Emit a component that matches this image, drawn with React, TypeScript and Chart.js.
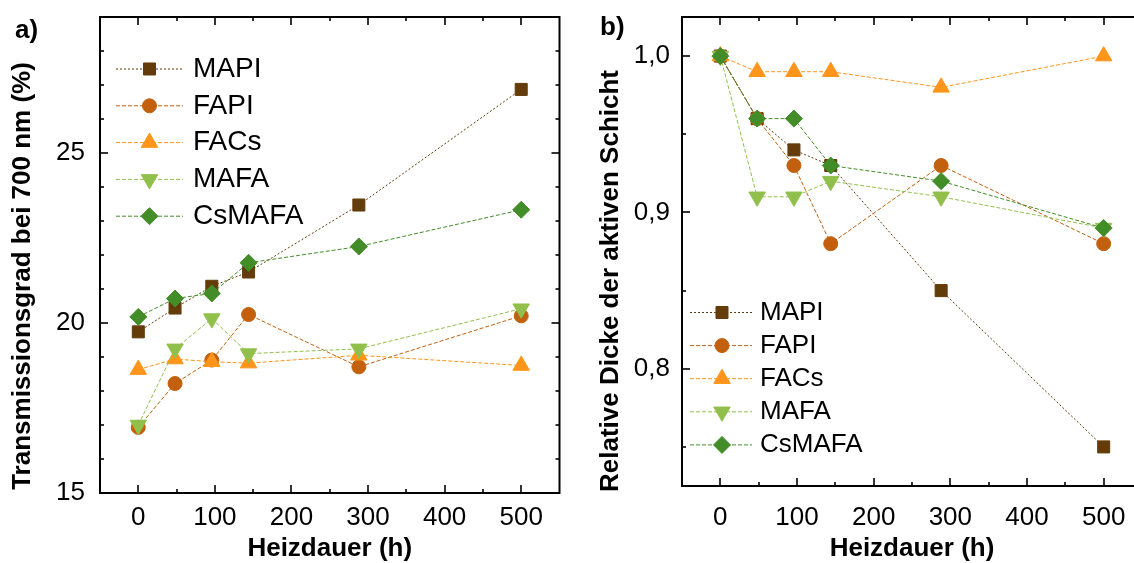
import React, { useEffect, useRef } from 'react';
import { Chart, registerables } from 'chart.js';
import { drawPoint } from 'chart.js/helpers';

Chart.register(...registerables);

// ---------- data ----------
const heatingHours = [0, 48, 96, 144, 288, 500];
const seriesNames = ['MAPI', 'FAPI', 'FACs', 'MAFA', 'CsMAFA'];

// panel a) Transmissionsgrad bei 700 nm (%)
const transmissionMAPI = [19.74, 20.44, 21.08, 21.5, 23.47, 26.87];
const transmissionFAPI = [16.93, 18.22, 18.91, 20.25, 18.71, 20.21];
const transmissionFACs = [18.63, 18.94, 18.86, 18.82, 19.05, 18.75];
const transmissionMAFA = [17.0, 19.24, 20.13, 19.1, 19.24, 20.42];
const transmissionCsMAFA = [20.18, 20.72, 20.87, 21.77, 22.25, 23.33];

// panel b) Relative Dicke der aktiven Schicht
const thicknessMAPI = [1.0, 0.96, 0.94, 0.93, 0.85, 0.75];
const thicknessFAPI = [1.0, 0.96, 0.93, 0.88, 0.93, 0.88];
const thicknessFACs = [1.0, 0.99, 0.99, 0.99, 0.98, 1.0];
const thicknessMAFA = [1.0, 0.91, 0.91, 0.92, 0.91, 0.89];
const thicknessCsMAFA = [1.0, 0.96, 0.96, 0.93, 0.92, 0.89];

// ticks
const xMajorTicks = [0, 100, 200, 300, 400, 500];
const xMinorTicks = [50, 150, 250, 350, 450];
const yMajorTicksA = [15, 20, 25];
const yMinorTicksA = [16, 17, 18, 19, 21, 22, 23, 24, 26, 27, 28];
const yMajorTicksB = [0.8, 0.9, 1.0];
const yMinorTicksB = [0.75, 0.85, 0.95];

// ---------- styles ----------
const FONT = '"Liberation Sans", Arial, Helvetica, sans-serif';

const seriesStyles = [
  { color: '#643c0a', pointStyle: 'rect', radius: 8.5, rotation: 0, dash: [2, 2] },
  { color: '#c2600e', pointStyle: 'circle', radius: 7, rotation: 0, dash: [4, 2] },
  { color: '#ff951a', pointStyle: 'triangle', radius: 9.5, rotation: 0, dash: [4, 2] },
  { color: '#90c04b', pointStyle: 'triangle', radius: 9.5, rotation: 180, dash: [4, 2] },
  { color: '#438d29', pointStyle: 'rectRot', radius: 8.5, rotation: 0, dash: [4, 2] },
];

type PanelSpec = {
  series: number[][];
  yMin: number;
  yMax: number;
  yMajor: number[];
  yMinor: number[];
  yLabel: (v: number) => string;
  yTitle: string;
  xTitle: string;
  letter: string;
  width: number;
  padding: { top: number; right: number; left: number; bottom: number };
  yAxisWidth: number;
  xAxisHeight: number;
  xTickPadding: number;
  yTickPadding: number;
  yTitleX: number;
  yTitleY: number;
  xTitleY: number;
  letterX: number;
  letterY: number;
  legend: { x1: number; x2: number; mx: number; tx: number; y0: number; step: number; font: number };
};

const panelA: PanelSpec = {
  series: [transmissionMAPI, transmissionFAPI, transmissionFACs, transmissionMAFA, transmissionCsMAFA],
  yMin: 15,
  yMax: 29,
  yMajor: yMajorTicksA,
  yMinor: yMinorTicksA,
  yLabel: (v) => String(v),
  yTitle: 'Transmissionsgrad bei 700 nm (%)',
  xTitle: 'Heizdauer (h)',
  letter: 'a)',
  width: 570,
  padding: { top: 17, right: 9, left: 0, bottom: 0 },
  yAxisWidth: 100,
  xAxisHeight: 70,
  xTickPadding: 9,
  yTickPadding: 15,
  yTitleX: 23,
  yTitleY: 276,
  xTitleY: 549,
  letterX: 15,
  letterY: 38,
  legend: { x1: 116, x2: 183, mx: 149.5, tx: 193, y0: 69, step: 36.8, font: 28 },
};

const panelB: PanelSpec = {
  series: [thicknessMAPI, thicknessFAPI, thicknessFACs, thicknessMAFA, thicknessCsMAFA],
  yMin: 0.725,
  yMax: 1.025,
  yMajor: yMajorTicksB,
  yMinor: yMinorTicksB,
  yLabel: (v) => v.toFixed(1).replace('.', ','),
  yTitle: 'Relative Dicke der aktiven Schicht',
  xTitle: 'Heizdauer (h)',
  letter: 'b)',
  width: 600,
  padding: { top: 17, right: 28, left: 0, bottom: 0 },
  yAxisWidth: 112,
  xAxisHeight: 77,
  xTickPadding: 16,
  yTickPadding: 12,
  yTitleX: 41,
  yTitleY: 281,
  xTitleY: 549,
  letterX: 30,
  letterY: 34.5,
  legend: { x1: 120, x2: 182, mx: 152, tx: 190, y0: 312.5, step: 33.1, font: 26 },
};

function decorPlugin(spec: PanelSpec) {
  return {
    id: 'panelDecor',
    afterDraw(chart: any) {
      const { ctx, chartArea: a, scales } = chart;
      const xs = scales.x;
      const ys = scales.y;
      ctx.save();
      ctx.setLineDash([]);
      ctx.strokeStyle = '#000';
      ctx.lineWidth = 2;
      ctx.strokeRect(a.left, a.top, a.right - a.left, a.bottom - a.top);

      ctx.lineWidth = 1.6;
      const seg = (x1: number, y1: number, x2: number, y2: number) => {
        ctx.beginPath();
        ctx.moveTo(x1, y1);
        ctx.lineTo(x2, y2);
        ctx.stroke();
      };
      const xTick = (v: number, len: number) => {
        const p = Math.round(xs.getPixelForValue(v));
        seg(p, a.bottom, p, a.bottom - len);
        seg(p, a.top, p, a.top + len);
      };
      const yTick = (v: number, len: number) => {
        const p = Math.round(ys.getPixelForValue(v));
        seg(a.left, p, a.left + len, p);
        seg(a.right, p, a.right - len, p);
      };
      xMajorTicks.forEach((v) => xTick(v, 8));
      xMinorTicks.forEach((v) => xTick(v, 4));
      spec.yMajor.forEach((v) => yTick(v, 8));
      spec.yMinor.forEach((v) => yTick(v, 4));

      // titles
      ctx.fillStyle = '#000';
      ctx.font = `bold 26px ${FONT}`;
      ctx.textAlign = 'center';
      ctx.textBaseline = 'middle';
      ctx.fillText(spec.xTitle, (a.left + a.right) / 2, spec.xTitleY);
      ctx.save();
      ctx.translate(spec.yTitleX, spec.yTitleY);
      ctx.rotate(-Math.PI / 2);
      ctx.fillText(spec.yTitle, 0, 0);
      ctx.restore();

      ctx.textAlign = 'left';
      ctx.textBaseline = 'alphabetic';
      ctx.fillText(spec.letter, spec.letterX, spec.letterY);

      // legend
      const lg = spec.legend;
      chart.data.datasets.forEach((ds: any, i: number) => {
        const st = seriesStyles[i];
        const y = lg.y0 + i * lg.step;
        ctx.strokeStyle = st.color;
        ctx.lineWidth = 1;
        ctx.setLineDash(st.dash);
        seg(lg.x1, y, lg.x2, y);
        ctx.setLineDash([]);
        ctx.fillStyle = st.color;
        ctx.strokeStyle = st.color;
        ctx.lineWidth = 1;
        drawPoint(ctx, { pointStyle: st.pointStyle, rotation: st.rotation, radius: st.radius, borderWidth: 1 } as any, lg.mx, y);
        ctx.fillStyle = '#000';
        ctx.font = `${lg.font}px ${FONT}`;
        ctx.textAlign = 'left';
        ctx.textBaseline = 'middle';
        ctx.fillText(ds.label, lg.tx, y);
      });
      ctx.restore();
    },
  };
}

function makeConfig(spec: PanelSpec): any {
  const zeroPad = (s: any) => {
    s.paddingLeft = 0;
    s.paddingRight = 0;
    s.paddingTop = 0;
    s.paddingBottom = 0;
  };
  return {
    type: 'line',
    data: {
      datasets: seriesNames.map((name, i) => {
        const st = seriesStyles[i];
        return {
          label: name,
          data: heatingHours.map((h, k) => ({ x: h, y: spec.series[i][k] })),
          borderColor: st.color,
          backgroundColor: st.color,
          borderWidth: 1,
          borderDash: st.dash,
          pointStyle: st.pointStyle,
          pointRadius: st.radius,
          pointRotation: st.rotation,
          pointBorderWidth: 1,
          pointBorderColor: st.color,
          pointBackgroundColor: st.color,
          fill: false,
          tension: 0,
          order: seriesNames.length - i,
          clip: false,
        };
      }),
    },
    options: {
      responsive: false,
      animation: false,
      devicePixelRatio: 1,
      events: [],
      layout: { padding: spec.padding },
      plugins: { legend: { display: false }, tooltip: { enabled: false }, title: { display: false } },
      scales: {
        x: {
          type: 'linear',
          min: -50,
          max: 550,
          grid: { display: false, drawTicks: false },
          border: { display: false },
          ticks: {
            padding: spec.xTickPadding,
            color: '#000',
            font: { family: FONT, size: 26 },
            autoSkip: false,
            maxRotation: 0,
            callback: (v: number) => String(v),
          },
          afterBuildTicks: (s: any) => {
            s.ticks = xMajorTicks.map((v) => ({ value: v }));
          },
          afterFit: (s: any) => {
            s.height = spec.xAxisHeight;
            zeroPad(s);
          },
        },
        y: {
          type: 'linear',
          min: spec.yMin,
          max: spec.yMax,
          grid: { display: false, drawTicks: false },
          border: { display: false },
          ticks: {
            padding: spec.yTickPadding,
            color: '#000',
            font: { family: FONT, size: 26 },
            autoSkip: false,
            callback: (v: number) => spec.yLabel(v),
          },
          afterBuildTicks: (s: any) => {
            s.ticks = spec.yMajor.map((v) => ({ value: v }));
          },
          afterFit: (s: any) => {
            s.width = spec.yAxisWidth;
            zeroPad(s);
          },
        },
      },
    },
    plugins: [decorPlugin(spec)],
  };
}

function Panel({ spec, left }: { spec: PanelSpec; left: number }) {
  const ref = useRef<HTMLCanvasElement>(null);
  useEffect(() => {
    const chart = new Chart(ref.current as HTMLCanvasElement, makeConfig(spec));
    return () => chart.destroy();
  }, [spec]);
  return (
    <canvas
      ref={ref}
      width={spec.width}
      height={563}
      style={{ position: 'absolute', left, top: 0, width: spec.width, height: 563, display: 'block' }}
    />
  );
}

export default function App() {
  return (
    <div
      style={{
        position: 'absolute',
        left: 0,
        top: 0,
        width: 1134,
        height: 563,
        overflow: 'hidden',
        background: '#fff',
      }}
    >
      <Panel spec={panelA} left={0} />
      <Panel spec={panelB} left={570} />
    </div>
  );
}
